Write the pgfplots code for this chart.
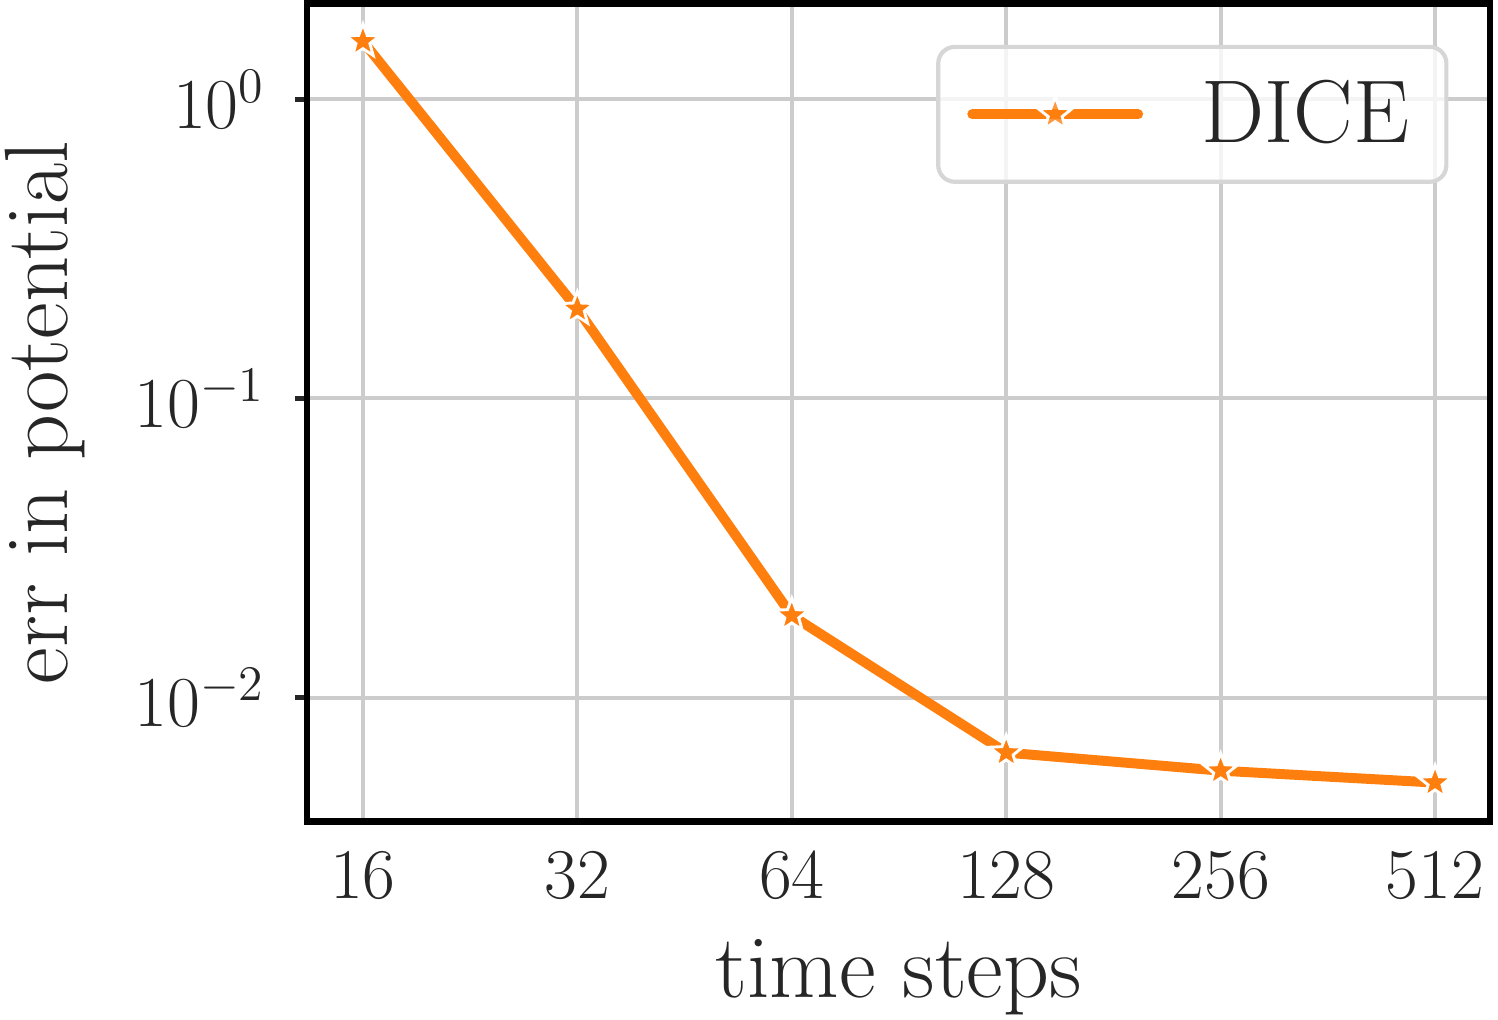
\documentclass[border=0pt]{standalone}
\usepackage{pgfplots}
\pgfplotsset{compat=1.18}
\definecolor{dorange}{HTML}{FF7F0E}
\definecolor{txt}{HTML}{262626}
\definecolor{gridc}{HTML}{CCCCCC}
\definecolor{legedge}{HTML}{D6D6D6}
\pgfdeclareplotmark{fstar}{%
  \pgfpathmoveto{\pgfpointpolar{90}{\pgfplotmarksize}}%
  \pgfpathlineto{\pgfpointpolar{126}{0.42\pgfplotmarksize}}%
  \pgfpathlineto{\pgfpointpolar{162}{\pgfplotmarksize}}%
  \pgfpathlineto{\pgfpointpolar{198}{0.42\pgfplotmarksize}}%
  \pgfpathlineto{\pgfpointpolar{234}{\pgfplotmarksize}}%
  \pgfpathlineto{\pgfpointpolar{270}{0.42\pgfplotmarksize}}%
  \pgfpathlineto{\pgfpointpolar{306}{\pgfplotmarksize}}%
  \pgfpathlineto{\pgfpointpolar{342}{0.42\pgfplotmarksize}}%
  \pgfpathlineto{\pgfpointpolar{18}{\pgfplotmarksize}}%
  \pgfpathlineto{\pgfpointpolar{54}{0.42\pgfplotmarksize}}%
  \pgfpathclose
  \pgfusepathqfillstroke
}
\begin{document}
\begin{tikzpicture}
\begin{axis}[
  scale only axis,
  width=285.2pt, height=197.3pt,
  ymode=log,
  xmin=-0.261, xmax=5.256,
  ymin=0.00385, ymax=2.09,
  xtick={0,1,2,3,4,5},
  xticklabels={16,32,64,128,256,512},
  ytick={0.01,0.1,1},
  yminorticks=false,
  xtick pos=bottom, ytick pos=left,
  major x tick style={draw=none},
  major y tick style={draw=txt, line width=1.2pt},
  tick align=outside,
  major tick length=3pt,
  xmajorgrids, ymajorgrids,
  major grid style={draw=gridc, line width=1pt},
  axis line style={draw=black, line width=1.6pt},
  ticklabel style={font=\fontsize{17.2}{20}\selectfont, text=txt},
  yticklabel style={xshift=-3.5pt},
  xticklabel style={yshift=-0.5pt},
  label style={font=\fontsize{21.7}{26}\selectfont, text=txt},
  xlabel={time steps},
  ylabel={err in potential},
  xlabel style={at={(axis description cs:0.5,-0.2428)}, anchor=south, inner sep=1pt},
  ylabel style={at={(axis description cs:-0.2602,0.5)}, anchor=north, inner sep=1.3pt},
  legend style={
    at={(1,1)}, anchor=north east, xshift=-10pt, yshift=-10pt,
    draw=legedge, line width=1pt, rounded corners=4pt,
    fill=white, fill opacity=0.8, text opacity=1,
    font=\fontsize{21.5}{26}\selectfont, text=txt,
    inner xsep=7pt, inner ysep=6pt,
  },
  legend cell align=left,
  legend image code/.code={
    \draw[#1, mark repeat=2, mark phase=2] plot coordinates {(0pt,0pt) (20pt,0pt) (40pt,0pt)};
  },
  legend style={nodes={inner sep=2pt}},
]
\addplot[
  color=dorange, line width=2.4pt, line cap=round, line join=round,
  mark=fstar, mark size=4.2pt,
  mark options={fill=dorange, draw=white, line width=0.7pt, solid, line join=miter},
] coordinates {
  (0,1.56) (1,0.199) (2,0.0188) (3,0.00655) (4,0.0057) (5,0.0052)
};
\addlegendentry{\hspace{12pt}DICE}
\end{axis}
\end{tikzpicture}
\end{document}
